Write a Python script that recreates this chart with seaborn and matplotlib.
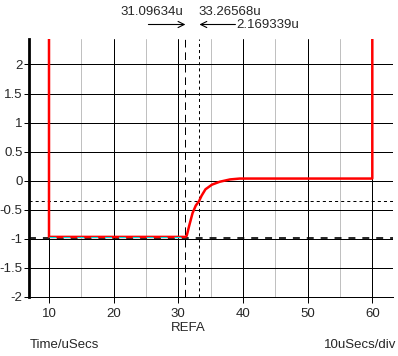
import matplotlib
matplotlib.use("Agg")
import matplotlib.pyplot as plt
import seaborn as sns
import pandas as pd

# ---- data ----
trace_x = [10, 10, 31.1, 31.3, 31.7, 32.2, 32.7, 33.2, 33.6, 34.2, 35.2, 36.4, 38.0, 39.5, 60, 60]
trace_y = [2.6, -0.97, -0.97, -0.95, -0.77, -0.56, -0.43, -0.355, -0.26, -0.15, -0.07, -0.02,
           0.02, 0.035, 0.035, 2.6]
cursor_a = 31.09634
cursor_b = 33.26568
level_a = -0.985
level_b = -0.36
major_x = [10, 20, 30, 40, 50, 60]
minor_x = [15, 25, 35, 45, 55]
y_ticks = [-2, -1.5, -1, -0.5, 0, 0.5, 1, 1.5, 2]
y_labels = ["-2", "-1.5", "-1", "-0.5", "0", "0.5", "1", "1.5", "2"]
label_a = "31.09634u"
label_b = "33.26568u"
label_delta = "2.169339u"

sns.set_style("white")
plt.rcParams["font.family"] = ["Liberation Sans", "DejaVu Sans"]
plt.rcParams["lines.scale_dashes"] = False

W, H = 398, 356
fig = plt.figure(figsize=(W / 100, H / 100), dpi=100)
ax_l, ax_r, ax_t, ax_b = 28.7, 393, 39.5, 296.7
ax = fig.add_axes([ax_l / W, (H - ax_b) / H, (ax_r - ax_l) / W, (ax_b - ax_t) / H])

xpx = 6.466
ax.set_xlim(10 - (49 - ax_l) / xpx, 60 + (ax_r - 372.3) / xpx)
ax.set_ylim(-2, (180.7 - ax_t) / 58.1)

px = 0.72  # one pixel in points
for xv in minor_x:
    ax.axvline(xv, color="#c0c0c0", lw=px, zorder=1)
for xv in major_x:
    ax.axvline(xv, color="black", lw=px, zorder=1)
for yv in y_ticks[1:]:
    ax.axhline(yv, color="black", lw=px, zorder=1)

# cursors
ax.axvline(cursor_a, color="black", lw=px, ls=(0, (5.5, 3.5)), zorder=2)
ax.axvline(cursor_b, color="black", lw=px, ls=(0, (2.2, 2.2)), zorder=2)
ax.axhline(level_a, color="black", lw=1.2, ls=(0, (5, 5)), zorder=2)
ax.axhline(level_b, color="black", lw=px, ls=(0, (2.2, 2.2)), zorder=2)

df = pd.DataFrame({"t": trace_x, "v": trace_y})
sns.lineplot(data=df, x="t", y="v", sort=False, estimator=None, color="#ff0000",
             lw=1.8, ax=ax, zorder=3)
ax.plot([10, cursor_a], [level_a + 0.02, level_a + 0.02], color="#00e0e0", lw=0.8,
        ls=(0, (5, 5)), zorder=4)

fs = 9.5
ax.set_xticks(major_x)
ax.set_xticklabels([str(v) for v in major_x])
ax.set_yticks(y_ticks)
ax.set_yticklabels(y_labels)
ax.tick_params(axis="x", direction="out", length=4, width=px, color="black",
               pad=4, labelsize=fs, bottom=True)
ax.tick_params(axis="y", direction="out", length=3.5, width=px, color="black",
               pad=0.8, labelsize=fs, left=True)
ax.set_xlabel("")
ax.set_ylabel("")
for s in ["top", "right"]:
    ax.spines[s].set_visible(False)
ax.spines["left"].set_linewidth(2.0)
ax.spines["left"].set_color("black")
ax.spines["bottom"].set_linewidth(px)
ax.spines["bottom"].set_color("black")

# cursor readouts
ax.annotate(label_a, xy=(cursor_a - 2 / xpx, H - 12), xycoords=("data", "figure pixels"),
            ha="right", va="center", fontsize=fs)
ax.annotate(label_b, xy=(cursor_b - 1 / xpx, H - 12), xycoords=("data", "figure pixels"),
            ha="left", va="center", fontsize=fs)
ax.annotate("", xy=(cursor_a, H - 24.5), xytext=(cursor_a - 37 / xpx, H - 24.5),
            xycoords=("data", "figure pixels"), textcoords=("data", "figure pixels"),
            arrowprops=dict(arrowstyle="->", color="black", lw=0.8, shrinkA=0, shrinkB=0,
                            mutation_scale=11))
ax.annotate("", xy=(cursor_b, H - 24.5), xytext=(cursor_b + 36 / xpx, H - 24.5),
            xycoords=("data", "figure pixels"), textcoords=("data", "figure pixels"),
            arrowprops=dict(arrowstyle="->", color="black", lw=0.8, shrinkA=0, shrinkB=0,
                            mutation_scale=11))
ax.annotate(label_delta, xy=(cursor_b + 37 / xpx, H - 25), xycoords=("data", "figure pixels"),
            ha="left", va="center", fontsize=fs)

fig.text(188 / W, 1 - 328 / H, "REFA", ha="center", va="center", fontsize=fs)
fig.text(30 / W, 1 - 345 / H, "Time/uSecs", ha="left", va="center", fontsize=fs)
fig.text(396 / W, 1 - 345 / H, "10uSecs/div", ha="right", va="center", fontsize=fs)

fig.savefig("out.png", dpi=100, facecolor="white")
